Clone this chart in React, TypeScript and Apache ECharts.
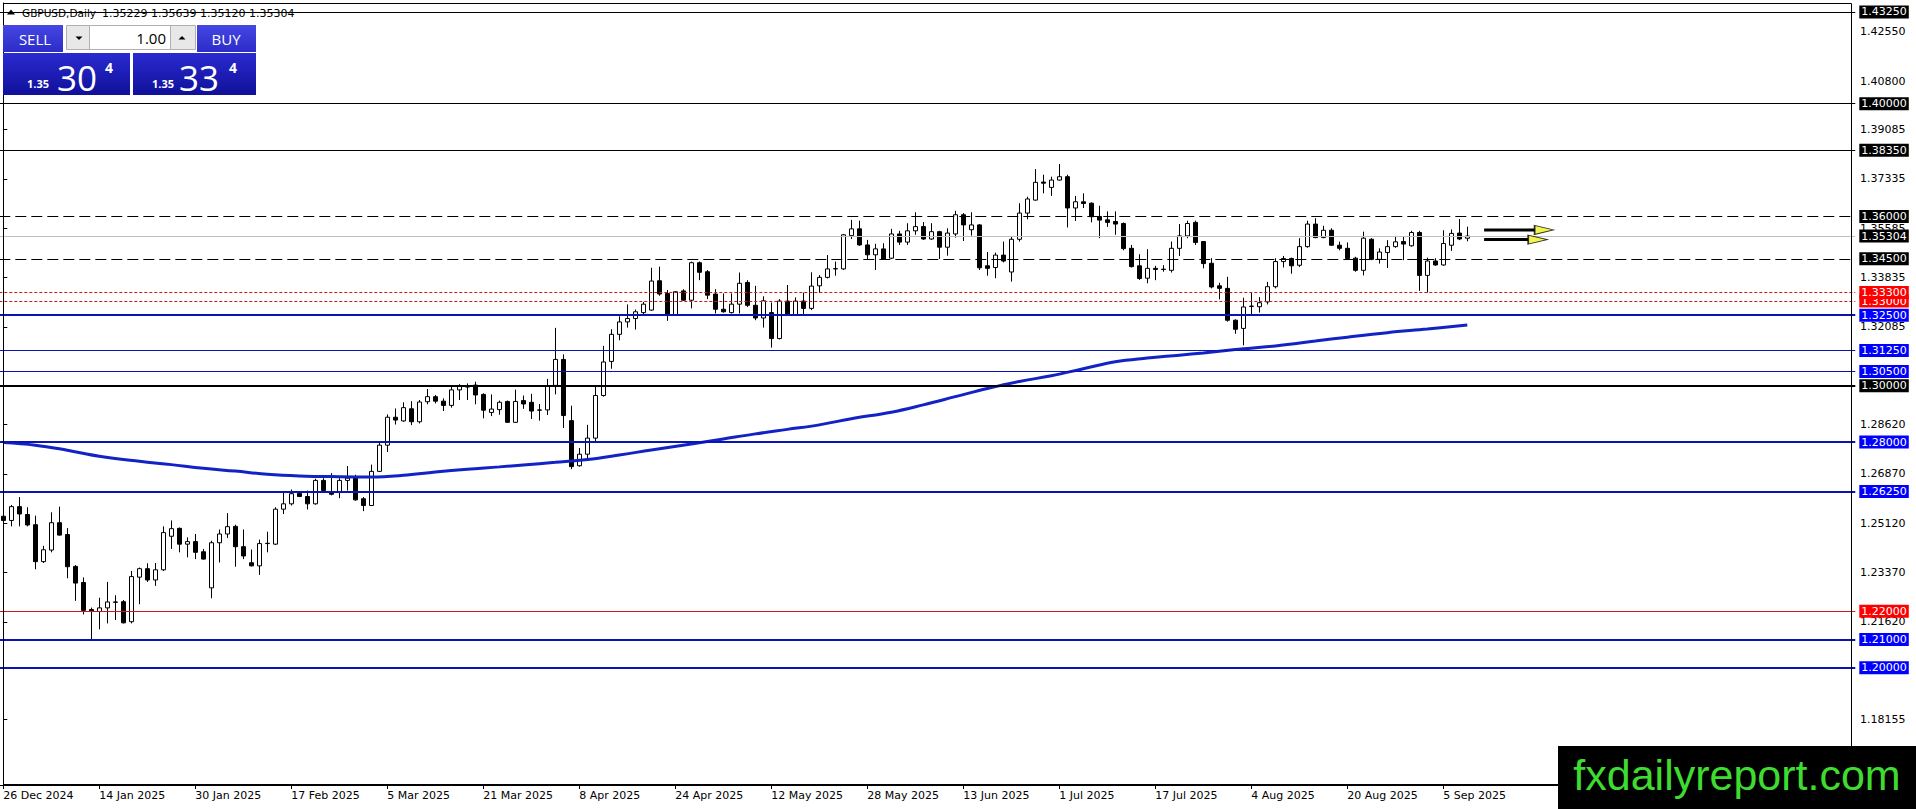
import { useEffect, useRef } from "react";
import * as echarts from "echarts";

// ---- Data ----
const opens = [
  1.2537, 1.2522, 1.2571, 1.2543, 1.2507, 1.2376, 1.2417, 1.2514, 1.2472, 1.2359,
  1.2302, 1.2206, 1.2199, 1.2212, 1.2233, 1.2234, 1.2163, 1.2321, 1.2351, 1.2311,
  1.2347, 1.2466, 1.2494, 1.2438, 1.2447, 1.2411, 1.2283, 1.2443, 1.2474, 1.2501,
  1.2429, 1.2372, 1.2361, 1.2440, 1.2438, 1.2562, 1.2581, 1.2618, 1.2607, 1.2581,
  1.2664, 1.2622, 1.2621, 1.2664, 1.2674, 1.2599, 1.2575, 1.2696, 1.2789, 1.2888,
  1.2875, 1.2918, 1.2872, 1.2943, 1.2961, 1.2945, 1.2930, 1.2985, 1.2998, 1.3002,
  1.2969, 1.2905, 1.2915, 1.2944, 1.2870, 1.2947, 1.2941, 1.2914, 1.2914, 1.3001,
  1.3093, 1.2876, 1.2716, 1.2757, 1.2814, 1.2965, 1.3086, 1.3182, 1.3226, 1.3238,
  1.3259, 1.3268, 1.3372, 1.3327, 1.3250, 1.3336, 1.3303, 1.3436, 1.3404, 1.3325,
  1.3271, 1.3259, 1.3289, 1.3366, 1.3285, 1.3240, 1.3259, 1.3167, 1.3300, 1.3252,
  1.3300, 1.3274, 1.3354, 1.3384, 1.3414, 1.3414, 1.3532, 1.3556, 1.3499, 1.3464,
  1.3485, 1.3452, 1.3538, 1.3509, 1.3549, 1.3564, 1.3520, 1.3546, 1.3491, 1.3538,
  1.3606, 1.3553, 1.3570, 1.3425, 1.3419, 1.3463, 1.3403, 1.3519, 1.3612, 1.3658,
  1.3722, 1.3703, 1.3729, 1.3741, 1.3630, 1.3652, 1.3647, 1.3600, 1.3588, 1.3582,
  1.3575, 1.3487, 1.3425, 1.3381, 1.3416, 1.3413, 1.3409, 1.3487, 1.3531, 1.3579,
  1.3511, 1.3434, 1.3354, 1.3345, 1.3232, 1.3203, 1.3281, 1.3280, 1.3297, 1.3351,
  1.3440, 1.3451, 1.3427, 1.3493, 1.3573, 1.3525, 1.3551, 1.3498, 1.3487, 1.3452,
  1.3409, 1.3519, 1.3448, 1.3472, 1.3493, 1.3511, 1.3496, 1.3543, 1.3391, 1.3442,
  1.3428, 1.3498, 1.3541, 1.35229,
];
const highs = [
  1.2545, 1.2577, 1.2605, 1.2569, 1.2539, 1.2432, 1.2551, 1.2571, 1.2495, 1.2364,
  1.2320, 1.2213, 1.2248, 1.2304, 1.2257, 1.2240, 1.2343, 1.2355, 1.2370, 1.2371,
  1.2501, 1.2522, 1.2497, 1.2462, 1.2474, 1.2421, 1.2450, 1.2490, 1.2548, 1.2507,
  1.2490, 1.2419, 1.2454, 1.2482, 1.2569, 1.2625, 1.2632, 1.2620, 1.2628, 1.2670,
  1.2672, 1.2690, 1.2672, 1.2715, 1.2684, 1.2605, 1.2720, 1.2798, 1.2898, 1.2919,
  1.2941, 1.2945, 1.2949, 1.2988, 1.2967, 1.2955, 1.3000, 1.3005, 1.3008, 1.3014,
  1.2973, 1.2969, 1.2947, 1.2947, 1.2986, 1.2965, 1.2971, 1.2935, 1.3024, 1.3205,
  1.3111, 1.2929, 1.2779, 1.2861, 1.2998, 1.3141, 1.3200, 1.3246, 1.3288, 1.3270,
  1.3297, 1.3418, 1.3422, 1.3339, 1.3335, 1.3342, 1.3440, 1.3440, 1.3410, 1.3342,
  1.3327, 1.3327, 1.3401, 1.3374, 1.3354, 1.3317, 1.3295, 1.3307, 1.3357, 1.3313,
  1.3330, 1.3402, 1.3392, 1.3463, 1.3440, 1.3538, 1.3588, 1.3585, 1.3517, 1.3503,
  1.3505, 1.3556, 1.3549, 1.3576, 1.3615, 1.3580, 1.3576, 1.3549, 1.3558, 1.3620,
  1.3612, 1.3615, 1.3573, 1.3474, 1.3472, 1.3511, 1.3531, 1.3647, 1.3670, 1.3768,
  1.3748, 1.3741, 1.3786, 1.3748, 1.3673, 1.3682, 1.3650, 1.3638, 1.3618, 1.3618,
  1.3579, 1.3499, 1.3466, 1.3484, 1.3425, 1.3427, 1.3511, 1.3573, 1.3585, 1.3585,
  1.3513, 1.3452, 1.3365, 1.3386, 1.3235, 1.3312, 1.3330, 1.3314, 1.3368, 1.3452,
  1.3460, 1.3454, 1.3523, 1.3585, 1.3594, 1.3567, 1.3558, 1.3511, 1.3508, 1.3457,
  1.3546, 1.3523, 1.3487, 1.3516, 1.3531, 1.3528, 1.3549, 1.3549, 1.3454, 1.3452,
  1.3551, 1.3554, 1.3591, 1.35639,
];
const lows = [
  1.2501, 1.2501, 1.2501, 1.2501, 1.2349, 1.2371, 1.2409, 1.2468, 1.2317, 1.2237,
  1.2189, 1.2100, 1.2136, 1.2157, 1.2169, 1.2157, 1.2157, 1.2225, 1.2304, 1.2290,
  1.2343, 1.2421, 1.2409, 1.2391, 1.2385, 1.2383, 1.2246, 1.2373, 1.2460, 1.2358,
  1.2385, 1.2359, 1.2329, 1.2409, 1.2435, 1.2545, 1.2575, 1.2605, 1.2561, 1.2578,
  1.2622, 1.2611, 1.2601, 1.2628, 1.2592, 1.2555, 1.2573, 1.2694, 1.2765, 1.2862,
  1.2872, 1.2860, 1.2866, 1.2934, 1.2937, 1.2910, 1.2922, 1.2949, 1.2949, 1.2934,
  1.2884, 1.2892, 1.2897, 1.2868, 1.2868, 1.2918, 1.2882, 1.2876, 1.2896, 1.2969,
  1.2850, 1.2704, 1.2713, 1.2740, 1.2801, 1.2961, 1.3060, 1.3161, 1.3206, 1.3199,
  1.3250, 1.3266, 1.3319, 1.3230, 1.3248, 1.3301, 1.3274, 1.3374, 1.3307, 1.3256,
  1.3259, 1.3256, 1.3256, 1.3279, 1.3232, 1.3206, 1.3135, 1.3164, 1.3250, 1.3250,
  1.3252, 1.3268, 1.3329, 1.3380, 1.3390, 1.3410, 1.3520, 1.3496, 1.3446, 1.3410,
  1.3446, 1.3449, 1.3499, 1.3499, 1.3535, 1.3517, 1.3517, 1.3449, 1.3461, 1.3525,
  1.3513, 1.3532, 1.3410, 1.3390, 1.3381, 1.3437, 1.3369, 1.3511, 1.3590, 1.3656,
  1.3682, 1.3673, 1.3727, 1.3561, 1.3584, 1.3630, 1.3579, 1.3523, 1.3563, 1.3535,
  1.3480, 1.3419, 1.3375, 1.3363, 1.3374, 1.3404, 1.3401, 1.3460, 1.3523, 1.3499,
  1.3416, 1.3345, 1.3306, 1.3227, 1.3184, 1.3143, 1.3253, 1.3259, 1.3288, 1.3345,
  1.3419, 1.3397, 1.3421, 1.3489, 1.3523, 1.3523, 1.3496, 1.3480, 1.3448, 1.3404,
  1.3391, 1.3445, 1.3433, 1.3417, 1.3489, 1.3445, 1.3493, 1.3336, 1.3330, 1.3425,
  1.3425, 1.3478, 1.3516, 1.35120,
];
const closes = [
  1.2522, 1.2571, 1.2545, 1.2506, 1.2376, 1.2418, 1.2514, 1.2470, 1.2358, 1.2300,
  1.2203, 1.2200, 1.2212, 1.2233, 1.2232, 1.2159, 1.2323, 1.2351, 1.2311, 1.2347,
  1.2479, 1.2493, 1.2438, 1.2447, 1.2409, 1.2385, 1.2443, 1.2474, 1.2500, 1.2429,
  1.2396, 1.2361, 1.2440, 1.2441, 1.2562, 1.2581, 1.2617, 1.2607, 1.2581, 1.2664,
  1.2628, 1.2615, 1.2664, 1.2672, 1.2595, 1.2575, 1.2696, 1.2789, 1.2888, 1.2878,
  1.2922, 1.2872, 1.2942, 1.2961, 1.2945, 1.2930, 1.2985, 1.2998, 1.2995, 1.2967,
  1.2913, 1.2917, 1.2941, 1.2870, 1.2944, 1.2935, 1.2910, 1.2913, 1.2997, 1.3093,
  1.2894, 1.2713, 1.2757, 1.2814, 1.2965, 1.3084, 1.3182, 1.3226, 1.3238, 1.3262,
  1.3289, 1.3371, 1.3325, 1.3250, 1.3333, 1.3303, 1.3436, 1.3402, 1.3321, 1.3271,
  1.3262, 1.3289, 1.3363, 1.3285, 1.3240, 1.3301, 1.3167, 1.3300, 1.3252, 1.3300,
  1.3274, 1.3353, 1.3384, 1.3414, 1.3415, 1.3535, 1.3556, 1.3499, 1.3464, 1.3485,
  1.3449, 1.3538, 1.3509, 1.3549, 1.3564, 1.3520, 1.3546, 1.3491, 1.3541, 1.3606,
  1.3570, 1.3570, 1.3418, 1.3416, 1.3463, 1.3442, 1.3519, 1.3612, 1.3662, 1.3721,
  1.3718, 1.3729, 1.3741, 1.3630, 1.3652, 1.3646, 1.3599, 1.3587, 1.3579, 1.3573,
  1.3486, 1.3422, 1.3380, 1.3416, 1.3412, 1.3412, 1.3487, 1.3531, 1.3575, 1.3508,
  1.3433, 1.3350, 1.3345, 1.3232, 1.3200, 1.3279, 1.3282, 1.3294, 1.3351, 1.3440,
  1.3451, 1.3425, 1.3493, 1.3573, 1.3525, 1.3551, 1.3498, 1.3487, 1.3451, 1.3409,
  1.3523, 1.3448, 1.3474, 1.3493, 1.3510, 1.3502, 1.3543, 1.3391, 1.3442, 1.3428,
  1.3504, 1.3540, 1.3520, 1.35304,
];

// moving average, read at selected bars
const maBars = [
  0, 4, 8, 12, 17, 21, 25, 29, 33, 37, 42, 46, 50, 54, 58, 62, 65, 69, 73, 77, 81,
  86, 90, 94, 98, 102, 106, 111, 115, 119, 123, 127, 131, 135, 139, 143, 147, 150,
  154, 159, 164, 168, 173, 178, 183,
];
const maValues = [
  1.2798, 1.2789, 1.2771, 1.2750, 1.2732, 1.2720, 1.2707, 1.2697, 1.2686, 1.2680,
  1.2677, 1.2676, 1.2682, 1.2694, 1.2704, 1.2712, 1.2719, 1.2728, 1.2738, 1.2754,
  1.2772, 1.2793, 1.2811, 1.2829, 1.2845, 1.2861, 1.2883, 1.2906, 1.2932, 1.2961,
  1.2990, 1.3015, 1.3035, 1.3060, 1.3085, 1.3098, 1.3108, 1.3116, 1.3128, 1.3141,
  1.3158, 1.3172, 1.3188, 1.3201, 1.3215,
];

const yTickValues = [
  1.4255, 1.408, 1.39085, 1.37335, 1.35585, 1.33835, 1.32085, 1.2862, 1.2687,
  1.2512, 1.2337, 1.2162, 1.18155,
];

const levelValues = [
  1.4325, 1.4, 1.3835, 1.36, 1.345, 1.33, 1.333, 1.325, 1.3125, 1.305, 1.3, 1.28,
  1.2625, 1.22, 1.21, 1.2,
];
const levelKinds = [
  "thin", "thin", "thin", "dash", "dash", "redDot", "redDot", "blueBold", "blueThin",
  "blueThin", "blackBold", "blueBold", "blueBold", "redThin", "blueBold", "blueBold",
];
const currentPrice = 1.35304;
const headerOHLC = [1.35229, 1.35639, 1.3512, 1.35304];

// arrows (start bar, end bar of shaft, head bar, price)
const arrowStarts = [185.1, 185.1];
const arrowShaftEnds = [191.5, 190.6];
const arrowHeads = [192.6, 191.8];
const arrowPrices = [1.3552, 1.3518];

const extraSlots = 48;
const labelEvery = 12;

const MONTHS = ["Jan", "Feb", "Mar", "Apr", "May", "Jun", "Jul", "Aug", "Sep", "Oct", "Nov", "Dec"];

function tradingDays(n: number): string[] {
  const out: string[] = [];
  const d = new Date(Date.UTC(2024, 11, 26));
  while (out.length < n) {
    const wd = d.getUTCDay();
    const newYear = d.getUTCMonth() === 0 && d.getUTCDate() === 1;
    if (wd !== 0 && wd !== 6 && !newYear) {
      out.push(`${d.getUTCDate()} ${MONTHS[d.getUTCMonth()]} ${d.getUTCFullYear()}`);
    }
    d.setUTCDate(d.getUTCDate() + 1);
  }
  return out;
}

const FONT = "DejaVu Sans";

const levelStyles: Record<string, { color: string; width: number; type: any; box: string }> = {
  thin: { color: "#000000", width: 1, type: "solid", box: "#000000" },
  dash: { color: "#000000", width: 1, type: [11, 5], box: "#000000" },
  redDot: { color: "#d01818", width: 1, type: [3, 2], box: "#ff0000" },
  blueBold: { color: "#0a14b4", width: 2, type: "solid", box: "#0000ff" },
  blueThin: { color: "#0a14b4", width: 1, type: "solid", box: "#0000ff" },
  blackBold: { color: "#000000", width: 2, type: "solid", box: "#000000" },
  redThin: { color: "#d01818", width: 1, type: "solid", box: "#ff0000" },
  current: { color: "#c0c0c0", width: 1, type: "solid", box: "#000000" },
};

function markItem(v: number, kind: string) {
  const s = levelStyles[kind];
  return {
    yAxis: v,
    lineStyle: { color: s.color, width: s.width, type: s.type },
    label: {
      show: true,
      position: "end",
      distance: 4,
      formatter: v.toFixed(5),
      color: "#ffffff",
      backgroundColor: s.box,
      padding: [1, 2, 0, 2],
      fontSize: 11,
      lineHeight: 12,
      fontFamily: FONT,
    },
  };
}

export default function App() {
  const ref = useRef<HTMLDivElement | null>(null);

  useEffect(() => {
    if (!ref.current) return;
    const chart = echarts.init(ref.current, null, { renderer: "svg" });
    const n = opens.length;
    const dates = tradingDays(n);
    const cats = dates.concat(Array.from({ length: extraSlots }, (_, k) => "x" + k));
    const totalSlots = cats.length;

    const showLabel = (idx: number) => idx % labelEvery === 0 && idx < n;

    const markData: any[] = levelValues.map((v, i) => markItem(v, levelKinds[i]));
    markData.push(markItem(currentPrice, "current"));

    const panelTop = 25;
    const blueHead = {
      type: "linear", x: 0, y: 0, x2: 0, y2: 1,
      colorStops: [{ offset: 0, color: "#4646e4" }, { offset: 1, color: "#2c2cc8" }],
    };
    const bluePanel = {
      type: "linear", x: 0, y: 0, x2: 0, y2: 1,
      colorStops: [{ offset: 0, color: "#2a2ad0" }, { offset: 1, color: "#10109a" }],
    };
    const openSans = "Open Sans";

    const graphic: any[] = [
      // frame
      {
        type: "rect", z: 50, silent: true,
        shape: { x: 3.5, y: 3.5, width: 1848, height: 781 },
        style: { fill: "none", stroke: "#000", lineWidth: 1 },
      },
      // header
      {
        type: "polygon", z: 100, silent: true,
        shape: { points: [[7, 14.5], [15, 14.5], [11, 9.5]] },
        style: { fill: "#000" },
      },
      {
        type: "text", z: 100, silent: true, x: 22, y: 13,
        style: { text: "GBPUSD,Daily", fill: "#000", font: `10.5px '${FONT}'`, align: "left", verticalAlign: "middle" },
      },
      {
        type: "text", z: 100, silent: true, x: 102, y: 13,
        style: { text: headerOHLC.map((v) => v.toFixed(5)).join(" "), fill: "#000", font: `11px '${FONT}'`, align: "left", verticalAlign: "middle" },
      },
      // SELL
      { type: "rect", z: 100, silent: true, shape: { x: 3, y: panelTop, width: 60, height: 27 }, style: { fill: blueHead } },
      {
        type: "text", z: 101, silent: true, x: 35, y: 38.5,
        style: { text: "SELL", fill: "#fff", font: `15px '${openSans}'`, align: "center", verticalAlign: "middle" },
      },
      // down button
      { type: "rect", z: 100, silent: true, shape: { x: 66.5, y: 25.5, width: 23, height: 24 }, style: { fill: "#e8e8e8", stroke: "#b0b0b0", lineWidth: 1 } },
      { type: "polygon", z: 101, silent: true, shape: { points: [[75.5, 36.5], [82.5, 36.5], [79, 40]] }, style: { fill: "#000" } },
      // input
      { type: "rect", z: 100, silent: true, shape: { x: 89.5, y: 25.5, width: 81, height: 24 }, style: { fill: "#fff", stroke: "#b0b0b0", lineWidth: 1 } },
      {
        type: "text", z: 101, silent: true, x: 166, y: 37.5,
        style: { text: "1.00", fill: "#000", font: `15px '${openSans}'`, align: "right", verticalAlign: "middle" },
      },
      // up button
      { type: "rect", z: 100, silent: true, shape: { x: 170.5, y: 25.5, width: 25, height: 24 }, style: { fill: "#e8e8e8", stroke: "#b0b0b0", lineWidth: 1 } },
      { type: "polygon", z: 101, silent: true, shape: { points: [[178.5, 39.5], [185.5, 39.5], [182, 36]] }, style: { fill: "#000" } },
      // BUY
      { type: "rect", z: 100, silent: true, shape: { x: 197, y: panelTop, width: 59, height: 27 }, style: { fill: blueHead } },
      {
        type: "text", z: 101, silent: true, x: 226, y: 38.5,
        style: { text: "BUY", fill: "#fff", font: `15px '${openSans}'`, align: "center", verticalAlign: "middle" },
      },
      // price panels
      { type: "rect", z: 100, silent: true, shape: { x: 3, y: 53, width: 127, height: 42 }, style: { fill: bluePanel } },
      { type: "rect", z: 100, silent: true, shape: { x: 133, y: 53, width: 123, height: 42 }, style: { fill: bluePanel } },
      {
        type: "text", z: 101, silent: true, x: 27, y: 83.5,
        style: { text: "1.35", fill: "#fff", font: `bold 11px '${openSans}'`, align: "left", verticalAlign: "middle" },
      },
      {
        type: "text", z: 101, silent: true, x: 57, y: 77.5,
        style: { text: "30", fill: "#fff", font: `35px '${openSans}'`, align: "left", verticalAlign: "middle" },
      },
      {
        type: "text", z: 101, silent: true, x: 105, y: 67,
        style: { text: "4", fill: "#fff", font: `bold 14px '${openSans}'`, align: "left", verticalAlign: "middle" },
      },
      {
        type: "text", z: 101, silent: true, x: 152, y: 83.5,
        style: { text: "1.35", fill: "#fff", font: `bold 11px '${openSans}'`, align: "left", verticalAlign: "middle" },
      },
      {
        type: "text", z: 101, silent: true, x: 179, y: 77.5,
        style: { text: "33", fill: "#fff", font: `35px '${openSans}'`, align: "left", verticalAlign: "middle" },
      },
      {
        type: "text", z: 101, silent: true, x: 229, y: 67,
        style: { text: "4", fill: "#fff", font: `bold 14px '${openSans}'`, align: "left", verticalAlign: "middle" },
      },
      // watermark
      { type: "rect", z: 100, silent: true, shape: { x: 1558, y: 746, width: 358, height: 63 }, style: { fill: "#000" } },
      {
        type: "text", z: 101, silent: true, x: 1737, y: 775,
        style: { text: "fxdailyreport.com", fill: "#3fdc30", font: `43px 'Liberation Sans'`, align: "center", verticalAlign: "middle" },
      },
    ];

    const option: any = {
      animation: false,
      backgroundColor: "#ffffff",
      grid: {
        left: -0.7,
        right: 60.7,
        top: 3,
        bottom: 24,
        containLabel: false,
        outerBoundsMode: "none",
      },
      xAxis: [
        {
          type: "category",
          data: cats,
          boundaryGap: true,
          axisLine: { show: true, lineStyle: { color: "#000", width: 1 } },
          axisTick: {
            show: true,
            alignWithLabel: true,
            interval: (idx: number) => showLabel(idx),
            length: 4,
            lineStyle: { color: "#000" },
          },
          axisLabel: {
            show: true,
            interval: (idx: number) => showLabel(idx),
            align: "left",
            margin: 5,
            color: "#000",
            fontSize: 11,
            fontFamily: FONT,
          },
          splitLine: { show: false },
        },
        {
          type: "value",
          min: -0.5,
          max: totalSlots - 0.5,
          show: false,
        },
      ],
      yAxis: {
        type: "value",
        position: "right",
        offset: -3.3,
        min: 1.158394,
        max: 1.435691,
        axisLine: { show: true, lineStyle: { color: "#000", width: 1 } },
        axisTick: {
          show: true,
          customValues: yTickValues,
          length: 4,
          lineStyle: { color: "#000" },
        },
        axisLabel: {
          show: true,
          customValues: yTickValues,
          formatter: (v: number) => v.toFixed(5),
          margin: 8,
          color: "#000",
          fontSize: 11,
          fontFamily: FONT,
        },
        splitLine: { show: false },
      },
      graphic,
      series: [
        {
          type: "candlestick",
          xAxisIndex: 0,
          yAxisIndex: 0,
          data: opens.map((o, i) => [o, closes[i], lows[i], highs[i]]),
          barWidth: 4,
          itemStyle: {
            color: "#ffffff",
            color0: "#000000",
            borderColor: "#000000",
            borderColor0: "#000000",
            borderColorDoji: "#000000",
            borderWidth: 1,
          },
          z: 2,
          markLine: {
            silent: true,
            symbol: ["none", "none"],
            precision: 6,
            animation: false,
            data: markData,
          },
        },
        {
          type: "line",
          xAxisIndex: 1,
          yAxisIndex: 0,
          data: maBars.map((b, i) => [b, maValues[i]]),
          showSymbol: false,
          symbol: "none",
          smooth: 0.4,
          lineStyle: { color: "#1222c4", width: 3 },
          z: 4,
          silent: true,
        },
        ...arrowPrices.map((p, i) => ({
          type: "line",
          xAxisIndex: 1,
          yAxisIndex: 0,
          data: [[arrowStarts[i], p], [arrowShaftEnds[i], p]],
          showSymbol: false,
          symbol: "none",
          lineStyle: { color: "#000", width: 3 },
          z: 5,
          silent: true,
        })),
        {
          type: "scatter",
          xAxisIndex: 1,
          yAxisIndex: 0,
          data: arrowPrices.map((p, i) => [arrowHeads[i], p]),
          symbol: "triangle",
          symbolSize: [9, 19],
          symbolRotate: -90,
          itemStyle: { color: "#f0f028", borderColor: "#000", borderWidth: 1.2 },
          z: 6,
          silent: true,
        },
      ],
    };

    chart.setOption(option);
    return () => {
      chart.dispose();
    };
  }, []);

  return (
    <div
      ref={ref}
      style={{ position: "fixed", left: 0, top: 0, width: 1916, height: 809, background: "#fff" }}
    />
  );
}
